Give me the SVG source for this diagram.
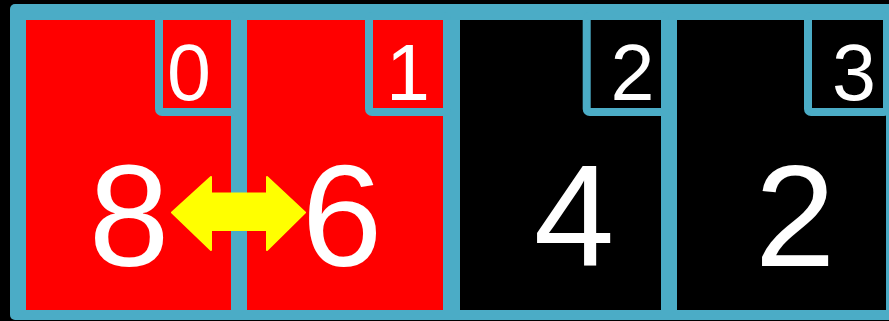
<svg xmlns="http://www.w3.org/2000/svg" width="889" height="321" viewBox="0 0 889 321">
<style>
.red{fill:#FF0000}
.blk{fill:#000000}
.idx{stroke:#4BACC6;stroke-width:8}
.big{font-family:"Liberation Sans",Arial,sans-serif;font-size:145px;fill:#FFFFFF;text-anchor:middle}
.num{font-family:"Liberation Sans",Arial,sans-serif;font-size:79px;fill:#FFFFFF;text-anchor:middle}
</style>
<rect width="889" height="321" fill="#000000"/>
<rect id="frame" x="10" y="4" width="900" height="316" rx="5" fill="#4BACC6"/>
<g id="cell0">
<rect class="red" x="26" y="20" width="205" height="290"/>
<rect class="red idx" x="159" y="16" width="76" height="96" rx="3"/>
<text class="num" x="189" y="100">0</text>
<text class="big" x="129" y="266">8</text>
</g>
<g id="cell1">
<rect class="red" x="247" y="20" width="196" height="290"/>
<rect class="red idx" x="369" y="16" width="78" height="96" rx="3"/>
<text class="num" x="408" y="100">1</text>
<text class="big" x="342" y="266">6</text>
</g>
<g id="cell2">
<rect class="blk" x="460" y="20" width="201" height="290"/>
<rect class="blk idx" x="586.7" y="16" width="78.3" height="96" rx="3"/>
<text class="num" x="632.5" y="100">2</text>
<text class="big" x="574" y="266">4</text>
</g>
<g id="cell3">
<rect class="blk" x="677" y="20" width="209" height="290"/>
<rect class="blk idx" x="808" y="16" width="79" height="96" rx="3"/>
<text class="num" x="854" y="100">3</text>
<text class="big" x="795" y="266">2</text>
</g>
<g id="connectors">
<polygon fill="#FFFF00" stroke="#FFFF00" stroke-width="2" stroke-linejoin="round" points="172,212.5 211,177 211,193.5 267,193.5 267,177 305,212.5 267,250 267,230 211,230 211,250"/>
</g>
</svg>
